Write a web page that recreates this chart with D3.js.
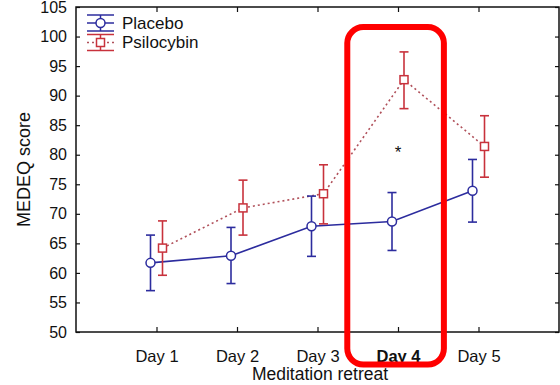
<!DOCTYPE html>
<html>
<head>
<meta charset="utf-8">
<script src="https://cdn.jsdelivr.net/npm/d3@7"></script>
<style>
  body { margin: 0; background: #fff; }
  text { font-family: "Liberation Sans", Arial, sans-serif; fill: #111; }
</style>
</head>
<body>
<svg id="chart" width="560" height="385"></svg>
<script>
var days = ["Day 1", "Day 2", "Day 3", "Day 4", "Day 5"];
var dayIndex = [1, 2, 3, 4, 5];
var placeboMean = [61.7, 62.9, 67.9, 68.7, 73.9];
var placeboLow = [57.0, 58.2, 62.8, 63.8, 68.6];
var placeboHigh = [66.4, 67.7, 73.0, 73.6, 79.2];
var psiloMean = [64.2, 71.0, 73.4, 92.7, 81.4];
var psiloLow = [59.6, 66.4, 68.3, 87.8, 76.2];
var psiloHigh = [68.8, 75.7, 78.3, 97.4, 86.6];
var yTicks = [50, 55, 60, 65, 70, 75, 80, 85, 90, 95, 100, 105];
var sigDay = 4, sigValue = 81;
var highlightX = [3.37, 4.57], highlightY = [44.5, 101.6];

var svg = d3.select("#chart"),
    margin = { top: 7, right: 1, bottom: 53, left: 76 },
    width = +svg.attr("width") - margin.left - margin.right,
    height = +svg.attr("height") - margin.top - margin.bottom;

var blue = "#2c2c9e", red = "#c8323c", redLine = "#b0505a";

var x = d3.scaleLinear().domain([0, 6]).range([0, width]),
    y = d3.scaleLinear().domain([50, 105]).range([height, 0]);

var g = svg.append("g")
    .attr("transform", "translate(" + margin.left + "," + margin.top + ")");

// axes, ticks pointing inward
g.append("g")
    .attr("transform", "translate(0," + height + ")")
    .call(d3.axisBottom(x).tickValues(dayIndex).tickSize(-5).tickPadding(18)
        .tickFormat(function(d) { return days[d - 1]; }))
    .call(function(a) {
        a.select(".domain").remove();
        a.selectAll("text").style("font-size", "16.5px")
            .style("font-weight", function(d) { return d === 4 ? "bold" : "normal"; });
    });

g.append("g")
    .call(d3.axisTop(x).tickValues(dayIndex).tickSize(-5).tickFormat(""))
    .call(function(a) { a.select(".domain").remove(); });

g.append("g")
    .call(d3.axisLeft(y).tickValues(yTicks).tickSize(-4).tickPadding(9))
    .call(function(a) {
        a.select(".domain").remove();
        a.selectAll("text").style("font-size", "16px");
    });

g.append("g")
    .attr("transform", "translate(" + width + ",0)")
    .call(d3.axisRight(y).tickValues(yTicks).tickSize(-4).tickFormat(""))
    .call(function(a) { a.select(".domain").remove(); });

g.selectAll(".tick line").attr("stroke", "#111").attr("stroke-width", 1.2);

g.append("rect")
    .attr("width", width)
    .attr("height", height)
    .attr("fill", "none")
    .attr("stroke", "#111")
    .attr("stroke-width", 1.5);

// axis titles
svg.append("text")
    .attr("transform", "translate(24," + (margin.top + height / 2) + ") rotate(-90)")
    .attr("text-anchor", "middle")
    .attr("dy", "0.35em")
    .style("font-size", "18px")
    .text("MEDEQ score");

svg.append("text")
    .attr("x", 320)
    .attr("y", 380)
    .attr("text-anchor", "middle")
    .style("font-size", "17.5px")
    .text("Meditation retreat");

function series(mean, low, high, offset) {
    return dayIndex.map(function(d, i) {
        return { x: x(d) + offset, m: mean[i], lo: low[i], hi: high[i] };
    });
}
var placebo = series(placeboMean, placeboLow, placeboHigh, -6);
var psilo = series(psiloMean, psiloLow, psiloHigh, 6);

var line = d3.line()
    .x(function(d) { return d.x; })
    .y(function(d) { return y(d.m); });

function drawBars(data, color) {
    var eb = g.append("g").attr("stroke", color).attr("stroke-width", 1.6);
    eb.selectAll(".v").data(data).enter().append("line")
        .attr("x1", function(d) { return d.x; })
        .attr("x2", function(d) { return d.x; })
        .attr("y1", function(d) { return y(d.lo); })
        .attr("y2", function(d) { return y(d.hi); });
    eb.selectAll(".top").data(data).enter().append("line")
        .attr("x1", function(d) { return d.x - 4.5; })
        .attr("x2", function(d) { return d.x + 4.5; })
        .attr("y1", function(d) { return y(d.hi); })
        .attr("y2", function(d) { return y(d.hi); });
    eb.selectAll(".bot").data(data).enter().append("line")
        .attr("x1", function(d) { return d.x - 4.5; })
        .attr("x2", function(d) { return d.x + 4.5; })
        .attr("y1", function(d) { return y(d.lo); })
        .attr("y2", function(d) { return y(d.lo); });
}

g.append("path").datum(psilo)
    .attr("fill", "none").attr("stroke", redLine).attr("stroke-width", 1.6)
    .attr("stroke-dasharray", "2,3")
    .attr("d", line);
g.append("path").datum(placebo)
    .attr("fill", "none").attr("stroke", blue).attr("stroke-width", 1.6)
    .attr("d", line);

drawBars(placebo, blue);
drawBars(psilo, red);

g.selectAll(".pc").data(placebo).enter().append("circle")
    .attr("cx", function(d) { return d.x; })
    .attr("cy", function(d) { return y(d.m); })
    .attr("r", 4.5)
    .attr("fill", "#fff").attr("stroke", blue).attr("stroke-width", 1.5);

g.selectAll(".ps").data(psilo).enter().append("rect")
    .attr("x", function(d) { return d.x - 4; })
    .attr("y", function(d) { return y(d.m) - 4; })
    .attr("width", 8).attr("height", 8)
    .attr("fill", "#fff").attr("stroke", red).attr("stroke-width", 1.5);

// significance star
g.append("text")
    .attr("x", x(sigDay))
    .attr("y", y(sigValue) + 9)
    .attr("text-anchor", "middle")
    .style("font-size", "17px")
    .text("*");

// legend
var legend = svg.append("g").attr("transform", "translate(87,0)");
var items = [
    { name: "Placebo", color: blue, cy: 23, dash: null, shape: "circle" },
    { name: "Psilocybin", color: red, cy: 42.5, dash: "2,3", shape: "square" }
];
items.forEach(function(it) {
    var li = legend.append("g").attr("stroke", it.color).attr("stroke-width", 1.5);
    li.append("line").attr("x1", 0).attr("x2", 27).attr("y1", it.cy - 8).attr("y2", it.cy - 8);
    li.append("line").attr("x1", 0).attr("x2", 27).attr("y1", it.cy + 8).attr("y2", it.cy + 8);
    li.append("line").attr("x1", 13.5).attr("x2", 13.5).attr("y1", it.cy - 8).attr("y2", it.cy + 8);
    li.append("line").attr("x1", 0).attr("x2", 27).attr("y1", it.cy).attr("y2", it.cy)
        .attr("stroke", it.dash ? redLine : it.color)
        .attr("stroke-dasharray", it.dash);
    if (it.shape === "circle") {
        li.append("circle").attr("cx", 13.5).attr("cy", it.cy).attr("r", 4.5).attr("fill", "#fff");
    } else {
        li.append("rect").attr("x", 9.5).attr("y", it.cy - 4).attr("width", 8).attr("height", 8).attr("fill", "#fff");
    }
    legend.append("text")
        .attr("x", 35).attr("y", it.cy)
        .attr("dy", "0.35em")
        .style("font-size", "17px")
        .text(it.name);
});

// highlight box around Day 4
g.append("rect")
    .attr("x", x(highlightX[0]))
    .attr("y", y(highlightY[1]))
    .attr("width", x(highlightX[1]) - x(highlightX[0]))
    .attr("height", y(highlightY[0]) - y(highlightY[1]))
    .attr("rx", 16)
    .attr("fill", "none")
    .attr("stroke", "#ff0000")
    .attr("stroke-width", 6);
</script>
</body>
</html>
